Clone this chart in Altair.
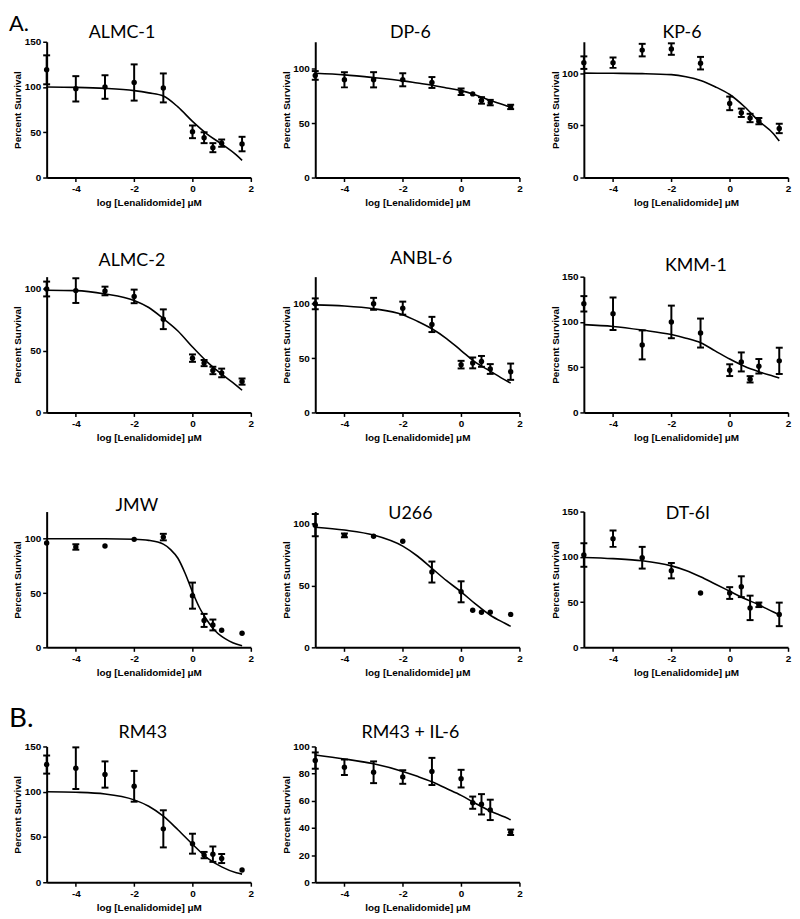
import altair as alt
import pandas as pd

# ---------------- data ----------------
LOG_DOSE = [-5, -4, -3, -2, -1, 0, 0.398, 0.699, 1, 1.699]
CURVE_X = [-5, -4, -3, -2, -1.5, -1, -0.5, 0, 0.5, 1, 1.5, 1.7]
JMW_CURVE_X = [-5, -3, -2, -1.5, -1, -0.75, -0.5, -0.25, 0, 0.25, 0.5, 0.75, 1, 1.25, 1.5, 1.7]

ALMC1_MEAN = [119, 98, 100, 105, 99, 50.5, 44, 33, 38, 37]
ALMC1_ERR = [16, 14, 13, 20, 16, 7, 6, 5, 4, 8]
ALMC1_CURVE = [100, 99.6, 98.5, 96, 93.5, 90, 78, 62, 48, 37, 25, 19]

DP6_MEAN = [94, 90, 90, 90, 87.5, 79, 77, 71, 69, 65]
DP6_ERR = [4, 7, 7, 6, 5, 3, 0, 3, 2.5, 2]
DP6_CURVE = [96, 94.5, 92, 89, 87, 85, 82.5, 80, 76, 71, 66.5, 64.6]

KP6_MEAN = [110, 110, 122, 123, 109.5, 71, 62, 57, 54, 47]
KP6_ERR = [6, 5, 6, 5.5, 6, 6.5, 4, 4, 3, 4.5]
KP6_CURVE = [100, 99.8, 99.5, 98.5, 96.5, 93, 87, 79.5, 68, 54, 42, 35]

ALMC2_MEAN = [100, 98.7, 98.4, 94, 75.5, 44, 40, 34, 32, 25]
ALMC2_ERR = [6, 10, 3.5, 5.5, 8, 3, 2.5, 3, 3.5, 2.5]
ALMC2_CURVE = [99, 98.7, 96, 90.7, 85, 76, 66, 53, 41, 31, 22, 18]

ANBL6_MEAN = [100, None, 100, 96, 81, 44, 45.6, 47, 40, 37.5]
ANBL6_ERR = [5, None, 5.5, 6, 7, 3.5, 5, 5, 4.5, 7.5]
ANBL6_CURVE = [99, 98, 95.5, 90, 84, 77, 68, 57, 46, 38, 30, 27]

KMM1_MEAN = [120, 109, 74.6, 100, 87.7, 46.7, 55.8, 36.6, 51, 57]
KMM1_ERR = [8.5, 18, 16, 18, 16, 6.5, 10.5, 3.5, 8, 14.5]
KMM1_CURVE = [97, 95, 91, 86, 82, 77, 68, 59, 51, 45, 40, 38]

JMW_MEAN = [96, 92.4, 93.3, 99.4, 101.5, 47.6, 24.8, 20.6, 15.8, 13]
JMW_ERR = [0, 2.5, 0, 0, 3, 12, 6, 5, 0, 0]
JMW_CURVE = [100, 100, 99.5, 98.5, 95, 90, 82, 68, 51, 36, 25, 16, 10, 6, 3, 1.5]

U266_MEAN = [99, 90.7, 90, 86, 61, 45, 30, 28.5, 28.5, 26.7]
U266_ERR = [9, 1.5, 0, 0, 8.5, 8.5, 0, 0, 0, 0]
U266_CURVE = [97.3, 95, 91, 82, 74, 64, 54, 45, 35, 26, 19.5, 17]

DT6I_MEAN = [102, 120, 99, 84.7, 60, 60, 67, 43.6, 47, 36.4]
DT6I_ERR = [13, 9, 12, 8.5, 0, 6.5, 11.5, 13.5, 2.5, 13]
DT6I_CURVE = [99.3, 98, 95.6, 90, 85, 78, 70, 62, 54, 47, 39, 36]

RM43_MEAN = [130, 126, 119, 106, 59, 42.6, 30, 31, 26.2, 13.5]
RM43_ERR = [10, 23, 14.5, 17, 20.5, 11, 3.5, 8.5, 5, 0]
RM43_CURVE = [100, 99.4, 97.5, 91, 84, 73, 58, 42, 27, 17, 10.5, 9]

RM43IL6_MEAN = [89.6, 84.7, 81, 77.5, 81.6, 76.3, 58.6, 57.4, 53.3, 36.8]
RM43IL6_ERR = [6, 5.7, 8, 5, 10, 6.5, 4.5, 7.5, 7.5, 2]
RM43IL6_CURVE = [93.7, 90.8, 87.2, 81.6, 78, 74, 69, 64, 58, 52.5, 48, 46]

NAMES = ["ALMC-1", "DP-6", "KP-6", "ALMC-2", "ANBL-6", "KMM-1",
         "JMW", "U266", "DT-6I", "RM43", "RM43 + IL-6"]
Y_MAX = [150, 125, 130, 110, 125, 150, 125, 110, 150, 150, 100]
Y_TICKS_150 = [0, 50, 100, 150]
Y_TICKS_100 = [0, 50, 100]
Y_TICKS_20 = [0, 20, 40, 60, 80, 100]
X_TICKS = [-4, -2, 0, 2]

# ---------------- layout / style ----------------
W, H = 206, 137
TITLE_POS = {  # (x, baseline y) relative to the plot area
    "ALMC-1": (76, -4), "DP-6": (96, -4), "KP-6": (99, -4),
    "ALMC-2": (86, -11), "ANBL-6": (107, -13), "KMM-1": (113, -6),
    "JMW": (91, -1), "U266": (96, 7), "DT-6I": (105, 8),
    "RM43": (97, -9), "RM43 + IL-6": (96, -9),
}
TAGS = {"ALMC-1": ("A.", 22, -28), "RM43": ("B.", 28, -42)}

XTITLE = "log [Lenalidomide] μM"
YTITLE = "Percent Survival"


def panel(name, mean, err, cx, cy, ymax, yticks):
    pts = pd.DataFrame({"x": LOG_DOSE, "y": mean, "e": err}).dropna()
    pts["lo"] = pts["y"] - pts["e"]
    pts["hi"] = pts["y"] + pts["e"]
    bars = pts[pts["e"] > 0]
    caps = pd.concat([
        pd.DataFrame({"x": bars["x"], "c": bars["lo"]}),
        pd.DataFrame({"x": bars["x"], "c": bars["hi"]}),
    ])
    curve = pd.DataFrame({"x": cx, "y": cy})

    xs = alt.Scale(domain=[-5, 2], nice=False, zero=False)
    ys = alt.Scale(domain=[0, ymax], nice=False, zero=True)
    xax = alt.Axis(values=X_TICKS, title=XTITLE, labelExpr="datum.value + ''")
    yax = alt.Axis(values=yticks, title=YTITLE, labelExpr="datum.value + ''")

    def X(f):
        return alt.X(f"{f}:Q", scale=xs, axis=xax)

    def Y(f):
        return alt.Y(f"{f}:Q", scale=ys, axis=yax)

    line = alt.Chart(curve).mark_line(
        color="black", strokeWidth=1.6, interpolate="monotone"
    ).encode(x=X("x"), y=Y("y"))
    rule = alt.Chart(bars).mark_rule(color="black", strokeWidth=2).encode(
        x=X("x"), y=Y("lo"), y2="hi:Q")
    cap = alt.Chart(caps).mark_tick(
        orient="horizontal", color="black", size=7, thickness=2, opacity=1
    ).encode(x=X("x"), y=Y("c"))
    dots = alt.Chart(pts).mark_circle(color="black", size=30, opacity=1).encode(
        x=X("x"), y=Y("y"))
    tx, ty = TITLE_POS[name]
    ttl = alt.Chart(pd.DataFrame({"t": [name]})).mark_text(
        font="Lato", fontSize=18, align="center", baseline="alphabetic", color="black"
    ).encode(x=alt.value(tx), y=alt.value(ty), text="t:N")
    layers = [line, rule, cap, dots, ttl]
    if name in TAGS:
        tag, fs, tyy = TAGS[name]
        layers.append(alt.Chart(pd.DataFrame({"t": [tag]})).mark_text(
            font="Lato", fontSize=fs, align="left", baseline="top", color="black"
        ).encode(x=alt.value(-38), y=alt.value(tyy), text="t:N"))
    return alt.layer(*layers).properties(width=W, height=H)


SPECS = [
    (ALMC1_MEAN, ALMC1_ERR, CURVE_X, ALMC1_CURVE, Y_TICKS_150),
    (DP6_MEAN, DP6_ERR, CURVE_X, DP6_CURVE, Y_TICKS_100),
    (KP6_MEAN, KP6_ERR, CURVE_X, KP6_CURVE, Y_TICKS_100),
    (ALMC2_MEAN, ALMC2_ERR, CURVE_X, ALMC2_CURVE, Y_TICKS_100),
    (ANBL6_MEAN, ANBL6_ERR, CURVE_X, ANBL6_CURVE, Y_TICKS_100),
    (KMM1_MEAN, KMM1_ERR, CURVE_X, KMM1_CURVE, Y_TICKS_150),
    (JMW_MEAN, JMW_ERR, JMW_CURVE_X, JMW_CURVE, Y_TICKS_100),
    (U266_MEAN, U266_ERR, CURVE_X, U266_CURVE, Y_TICKS_100),
    (DT6I_MEAN, DT6I_ERR, CURVE_X, DT6I_CURVE, Y_TICKS_150),
    (RM43_MEAN, RM43_ERR, CURVE_X, RM43_CURVE, Y_TICKS_150),
    (RM43IL6_MEAN, RM43IL6_ERR, CURVE_X, RM43IL6_CURVE, Y_TICKS_20),
]

panels = [panel(n, m, e, cx, cy, ym, yt)
          for n, (m, e, cx, cy, yt), ym in zip(NAMES, SPECS, Y_MAX)]

chart = alt.concat(
    *panels, columns=3, spacing={"row": 100, "column": 65}, bounds="flush"
).properties(padding=1).configure_view(stroke=None).configure_axis(
    grid=False,
    domainColor="black", domainWidth=2,
    tickColor="black", tickWidth=1.5, tickSize=4,
    labelFont="Liberation Sans", labelFontWeight="bold", labelFontSize=10,
    labelColor="black", labelPadding=2,
    titleFont="Liberation Sans", titleFontWeight="bold", titleFontSize=10,
    titleColor="black",
).configure_axisY(
    minExtent=20, maxExtent=20, titlePadding=4,
).configure_axisX(
    titlePadding=4, labelFlush=False,
)

chart.save("out.html", embed_options={"renderer": "svg", "actions": False})
